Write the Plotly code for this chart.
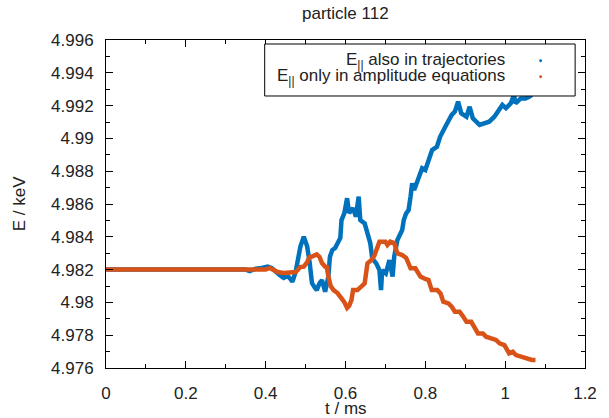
import plotly.graph_objects as go

# ---- data ----
t_traj = [0.0, 0.35, 0.36, 0.375, 0.39, 0.405, 0.415, 0.425, 0.435, 0.445, 0.455, 0.462, 0.467,
          0.475, 0.482, 0.487, 0.4955, 0.50, 0.504, 0.51, 0.516, 0.522, 0.528, 0.535, 0.541,
          0.549, 0.553, 0.557, 0.561, 0.567, 0.574, 0.580, 0.587, 0.590, 0.597, 0.604, 0.609,
          0.619, 0.626, 0.633, 0.637, 0.648, 0.655, 0.662, 0.667, 0.677, 0.685, 0.689, 0.692,
          0.701, 0.710, 0.718, 0.722, 0.730, 0.742, 0.746, 0.752, 0.758, 0.763, 0.767, 0.772,
          0.784, 0.792, 0.800, 0.808, 0.817, 0.829, 0.837, 0.850, 0.858, 0.866, 0.874, 0.882,
          0.890, 0.903, 0.911, 0.919, 0.936, 0.948, 0.960, 0.973, 0.983, 0.993, 1.002, 1.014,
          1.022, 1.026, 1.039, 1.051, 1.060, 1.067]
E_traj = [4.98200, 4.98200, 4.98191, 4.98205, 4.98210, 4.98218, 4.98210, 4.98185, 4.98167, 4.98149,
          4.98161, 4.98143, 4.98126, 4.98185, 4.98277, 4.98340, 4.98401, 4.98362, 4.98340, 4.98246,
          4.98118, 4.98094, 4.98075, 4.98118, 4.98136, 4.98065, 4.98106, 4.98157, 4.98279, 4.98319,
          4.98332, 4.98368, 4.98393, 4.98502, 4.98543, 4.98635, 4.98545, 4.98574, 4.98523, 4.98645,
          4.98502, 4.98482, 4.98423, 4.98362, 4.98269, 4.98238, 4.98197, 4.98075, 4.98197, 4.98177,
          4.98258, 4.98157, 4.98279, 4.98380, 4.98441, 4.98502, 4.98543, 4.98563, 4.98645, 4.98726,
          4.98685, 4.98766, 4.98818, 4.98807, 4.98868, 4.98929, 4.98949, 4.99010, 4.99071, 4.99112,
          4.99143, 4.99163, 4.99224, 4.99153, 4.99132, 4.99193, 4.99123, 4.99082, 4.99092, 4.99102,
          4.99132, 4.99163, 4.99204, 4.99184, 4.99214, 4.99265, 4.99214, 4.99244, 4.99244, 4.99254,
          4.99265]

t_ampl = [0.0, 0.40, 0.41, 0.42, 0.43, 0.445, 0.46, 0.475, 0.487, 0.4955, 0.504, 0.510, 0.516,
          0.528, 0.535, 0.541, 0.549, 0.553, 0.557, 0.563, 0.570, 0.580, 0.590, 0.597, 0.604,
          0.609, 0.615, 0.619, 0.630, 0.640, 0.648, 0.655, 0.665, 0.672, 0.677, 0.685, 0.700,
          0.705, 0.712, 0.722, 0.730, 0.742, 0.752, 0.763, 0.775, 0.788, 0.800, 0.808, 0.816,
          0.830, 0.838, 0.845, 0.858, 0.866, 0.874, 0.886, 0.895, 0.903, 0.915, 0.923, 0.932,
          0.944, 0.952, 0.965, 0.977, 0.986, 0.998, 1.010, 1.019, 1.027, 1.039, 1.051, 1.059,
          1.067, 1.076]
E_ampl = [4.98200, 4.98200, 4.98210, 4.98198, 4.98185, 4.98179, 4.98179, 4.98185, 4.98216, 4.98218,
          4.98246, 4.98277, 4.98279, 4.98293, 4.98277, 4.98240, 4.98218, 4.98216, 4.98157, 4.98100,
          4.98075, 4.98057, 4.98025, 4.98002, 4.97966, 4.97978, 4.98015, 4.98075, 4.98075, 4.98100,
          4.98116, 4.98238, 4.98258, 4.98283, 4.98319, 4.98370, 4.98370, 4.98350, 4.98370, 4.98362,
          4.98299, 4.98289, 4.98271, 4.98208, 4.98208, 4.98157, 4.98143, 4.98136, 4.98075, 4.98075,
          4.98055, 4.98004, 4.97994, 4.97974, 4.97943, 4.97943, 4.97913, 4.97882, 4.97882, 4.97852,
          4.97811, 4.97811, 4.97791, 4.97781, 4.97771, 4.97750, 4.97740, 4.97689, 4.97699, 4.97679,
          4.97669, 4.97663, 4.97659, 4.97649, 4.97649]

x_tickvals = [0, 0.2, 0.4, 0.6, 0.8, 1.0, 1.2]
x_ticktext = ["0", "0.2", "0.4", "0.6", "0.8", "1", "1.2"]
y_tickvals = [4.976, 4.978, 4.980, 4.982, 4.984, 4.986, 4.988, 4.990, 4.992, 4.994, 4.996]
y_ticktext = ["4.976", "4.978", "4.98", "4.982", "4.984", "4.986", "4.988", "4.99", "4.992", "4.994", "4.996"]

names = ["E<sub>||</sub> also in trajectories", "E<sub>||</sub> only in amplitude equations"]
colors = ["#0072BD", "#D95319"]

FONT = "Liberation Sans, Arial, Helvetica, sans-serif"

fig = go.Figure()
fig.add_trace(go.Scatter(x=t_traj, y=E_traj, mode="lines", line=dict(color=colors[0], width=4.5),
                         name=names[0], showlegend=False))
fig.add_trace(go.Scatter(x=t_ampl, y=E_ampl, mode="lines", line=dict(color=colors[1], width=4.5),
                         name=names[1], showlegend=False))

axis_common = dict(showline=True, linecolor="black", linewidth=1, mirror="allticks",
                   ticks="inside", ticklen=7, tickwidth=1, tickcolor="black",
                   showgrid=False, zeroline=False,
                   tickfont=dict(family=FONT, size=17, color="#222"))

fig.update_xaxes(range=[0, 1.2], tickvals=x_tickvals, ticktext=x_ticktext,
                 minor=dict(ticks="inside", ticklen=4, dtick=0.1, tickcolor="black"),
                 ticklabelstandoff=10, **axis_common)
fig.update_yaxes(range=[4.976, 4.996], tickvals=y_tickvals, ticktext=y_ticktext,
                 minor=dict(ticks="inside", ticklen=4, dtick=0.001, tickcolor="black"),
                 ticklabelstandoff=8, **axis_common)

# custom legend box
shapes = [dict(type="rect", xref="paper", yref="paper", x0=0.3313, x1=0.9794, y0=0.8293, y1=0.9878,
               line=dict(color="black", width=1), fillcolor="white", layer="above")]
annotations = []
rows_y = [0.9369, 0.8881]
for nm, c, ry in zip(names, colors, rows_y):
    annotations.append(dict(text=nm, xref="paper", yref="paper", x=0.8374, y=ry, xanchor="right",
                            yanchor="middle", showarrow=False,
                            font=dict(family=FONT, size=17, color="#222")))
    shapes.append(dict(type="circle", xref="paper", yref="paper", x0=0.9074 - 0.003, x1=0.9074 + 0.003,
                       y0=ry - 0.0045, y1=ry + 0.0045, line=dict(width=0), fillcolor=c, layer="above"))

annotations.append(dict(text="particle 112", xref="paper", yref="paper", x=0.5, y=1.0823,
                        xanchor="center", yanchor="middle", showarrow=False,
                        font=dict(family=FONT, size=17, color="#222")))
annotations.append(dict(text="t / ms", xref="paper", yref="paper", x=0.5, y=-0.122,
                        xanchor="center", yanchor="middle", showarrow=False,
                        font=dict(family=FONT, size=17, color="#222")))
annotations.append(dict(text="E / keV", xref="paper", yref="paper", x=-0.181, y=0.5,
                        xanchor="center", yanchor="middle", showarrow=False, textangle=-90,
                        font=dict(family=FONT, size=17, color="#222")))

fig.update_layout(width=609, height=418, margin=dict(l=106, r=17, t=40, b=50),
                  paper_bgcolor="white", plot_bgcolor="white",
                  shapes=shapes, annotations=annotations, showlegend=False)

fig.write_html("out.html")
